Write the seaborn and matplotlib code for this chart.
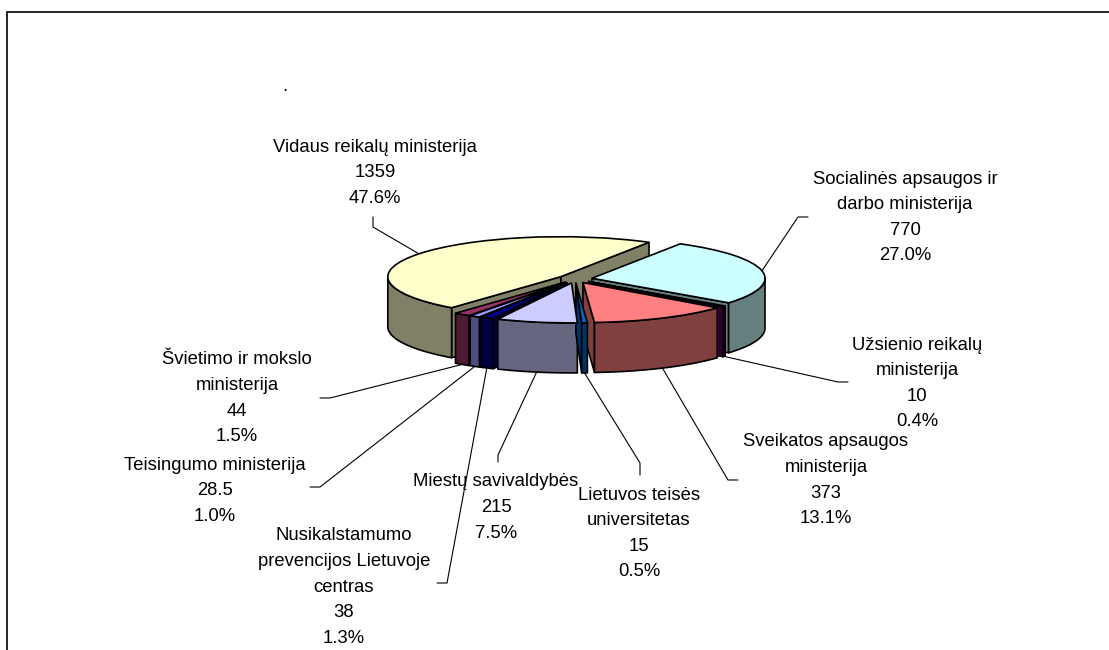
import numpy as np
import matplotlib
matplotlib.use("Agg")
import matplotlib.pyplot as plt
from matplotlib.colors import to_rgb
from matplotlib.patches import Rectangle
import seaborn as sns

# duomenys, pagal laikrodzio rodykle nuo kaires apacios
names = ["Teisingumo ministerija",
         "Švietimo ir mokslo\nministerija",
         "Vidaus reikalų ministerija",
         "Socialinės apsaugos ir\ndarbo ministerija",
         "Užsienio reikalų\nministerija",
         "Sveikatos apsaugos\nministerija",
         "Lietuvos teisės\nuniversitetas",
         "Miestų savivaldybės",
         "Nusikalstamumo\nprevencijos Lietuvoje\ncentras"]
values = [28.5, 44, 1359, 770, 10, 373, 15, 215, 38]
top_colors = ["#9999FF", "#993366", "#FFFFCC", "#CCFFFF", "#660066",
              "#FF8080", "#0066CC", "#CCCCFF", "#000080"]

# label layout in image px (x center, y of first line) and leader ticks
label_pos = [(215, 463), (237, 358), (375, 145), (905, 177), (917, 343),
             (826, 440), (639, 493), (496, 480), (344, 534)]
leader_px = [[(310, 487), (320, 487)],
             [(320, 398), (330, 398)],
             [(373, 217), (373, 227)],
             [(808, 217), (798, 217)],
             [(848, 382), (838, 382)],
             [(738, 480), (728, 480)],
             [(640, 475), (640, 463)],
             [(498, 462), (498, 455)],
             [(437, 583), (447, 583)]]

W, H = 1109, 650
CX, CY = 575, 279      # pie centre in px
A, B = 173, 40         # px per unit (x, y) -> tilted ellipse
DEPTH = 50 / B
LINE = 25.6

sns.set_theme(style="white")
plt.rcParams["font.family"] = ["Liberation Sans", "DejaVu Sans"]


def px(x, y):
    return (x - CX) / A, (CY - y) / B


fig = plt.figure(figsize=(W / 100, H / 100), dpi=100)
ax = fig.add_axes([0, 0, 1, 1])

wedges, _ = ax.pie(values, colors=top_colors, startangle=240, counterclock=False,
                   explode=[0.1] * len(values),
                   wedgeprops=dict(edgecolor="black", linewidth=1.2))
ax.set_aspect("auto")
ax.set_xlim(px(0, 0)[0], px(W, 0)[0])
ax.set_ylim(px(0, H)[1], px(0, 0)[1])
ax.axis("off")
for w in wedges:
    w.set_zorder(20)

# boki (3D efektas)
order = sorted(range(len(wedges)), key=lambda i: -wedges[i].center[1])
z = 2
for i in order:
    w = wedges[i]
    cx, cy = w.center
    r = w.r
    t1, t2 = w.theta1, w.theta2
    side = tuple(0.5 * c for c in to_rgb(top_colors[i]))
    polys = []
    for t, vis in [(t1, np.cos(np.radians(t1)) > 0), (t2, np.cos(np.radians(t2)) < 0)]:
        if vis:
            ex = cx + r * np.cos(np.radians(t))
            ey = cy + r * np.sin(np.radians(t))
            polys.append(([cx, ex, ex, cx], [cy, ey, ey - DEPTH, cy - DEPTH]))
    for lo, hi in [(-180, 0), (180, 360)]:
        a, b = max(t1, lo), min(t2, hi)
        if b > a:
            t = np.radians(np.linspace(a, b, 120))
            xs = cx + r * np.cos(t)
            ys = cy + r * np.sin(t)
            polys.append((np.r_[xs, xs[::-1]], np.r_[ys, ys[::-1] - DEPTH]))
    for xs, ys in polys:
        ax.fill(xs, ys, facecolor=side, edgecolor="black", linewidth=1.2,
                joinstyle="round", zorder=z)
        z += 0.1

# etiketes
total = sum(values)
for i, w in enumerate(wedges):
    lines = names[i].split("\n") + [f"{values[i]:g}", f"{values[i] / total * 100:.1f}%"]
    x0, y0 = label_pos[i]
    for j, txt in enumerate(lines):
        ax.text(*px(x0, y0 + j * LINE + 6.5), txt, ha="center", va="baseline",
                fontsize=13.3, color="black", zorder=30)
    mid = np.radians((w.theta1 + w.theta2) / 2)
    axx = w.center[0] + w.r * np.cos(mid)
    ayy = w.center[1] + w.r * np.sin(mid) - (DEPTH if np.sin(mid) < 0 else 0)
    pts = [px(*p) for p in leader_px[i]] + [(axx, ayy)]
    ax.plot([p[0] for p in pts], [p[1] for p in pts], color="black", lw=0.8, zorder=25)

ax.text(*px(285, 91), ".", ha="center", va="baseline", fontsize=13.3, color="black")

fig.add_artist(Rectangle((7 / W, -0.2), 1.2, 1.2 - 12 / H, transform=fig.transFigure,
                         fill=False, edgecolor="black", linewidth=1.2))

fig.savefig("out.png", dpi=100)
